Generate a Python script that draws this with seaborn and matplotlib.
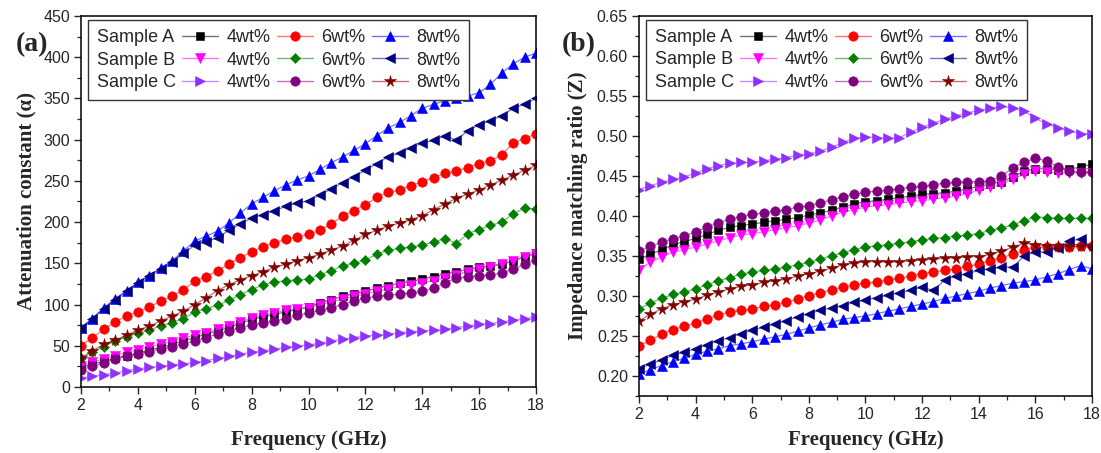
import numpy as np
import pandas as pd
import matplotlib
matplotlib.use("Agg")
import matplotlib.pyplot as plt
from matplotlib.lines import Line2D
from matplotlib.colors import to_rgba
from matplotlib.ticker import MultipleLocator, FormatStrFormatter
import seaborn as sns

# ---------------- data ----------------
freq = [2.0, 2.4, 2.8, 3.2, 3.6, 4.0, 4.4, 4.8, 5.2, 5.6, 6.0, 6.4, 6.8, 7.2, 7.6, 8.0,
        8.4, 8.8, 9.2, 9.6, 10.0, 10.4, 10.8, 11.2, 11.6, 12.0, 12.4, 12.8, 13.2, 13.6,
        14.0, 14.4, 14.8, 15.2, 15.6, 16.0, 16.4, 16.8, 17.2, 17.6, 18.0]

# (a) attenuation constant
att_A4 = [24, 28, 31, 35, 38, 41, 45, 48, 52, 56, 60, 64, 68, 72, 77, 82, 85, 88, 91, 94, 97,
          102, 106, 110, 113, 116, 120, 123, 126, 128, 131, 134, 137, 140, 143, 145, 147, 149, 153, 158, 162]
att_A6 = [50, 60, 70, 79, 86, 91, 97, 104, 110, 118, 128, 134, 141, 149, 157, 164, 170, 175, 179, 182, 185,
          190, 198, 207, 214, 221, 230, 236, 239, 244, 249, 254, 259, 262, 266, 271, 274, 282, 296, 301, 307]
att_A8 = [72, 83, 96, 107, 117, 127, 135, 144, 153, 165, 177, 183, 189, 199, 211, 222, 230, 238, 245, 251, 256,
          264, 272, 279, 287, 295, 305, 314, 321, 329, 338, 343, 347, 350, 353, 357, 367, 381, 392, 400, 405]
att_B4 = [26, 30, 34, 38, 42, 45, 48, 52, 55, 59, 63, 66, 70, 74, 79, 84, 87, 90, 93, 95, 96,
          100, 103, 107, 110, 113, 116, 119, 122, 124, 126, 129, 132, 136, 140, 143, 146, 149, 153, 158, 161]
att_B6 = [35, 42, 49, 56, 61, 65, 69, 74, 78, 83, 91, 95, 99, 105, 112, 118, 124, 127, 129, 130, 131,
          136, 141, 147, 150, 154, 161, 166, 168, 170, 172, 176, 180, 174, 186, 191, 196, 200, 210, 217, 216]
att_B8 = [71, 83, 95, 106, 116, 126, 135, 143, 152, 162, 172, 176, 181, 190, 198, 205, 209, 214, 219, 223, 226,
          233, 240, 248, 255, 263, 271, 279, 284, 290, 296, 299, 305, 299, 311, 318, 323, 329, 338, 343, 350]
att_C4 = [11, 13, 15, 17, 20, 22, 24, 25, 27, 28, 30, 32, 35, 37, 40, 42, 44, 46, 48, 50, 51,
          53, 56, 58, 60, 62, 63, 64, 66, 67, 68, 69, 70, 72, 74, 76, 77, 79, 81, 83, 85]
att_C6 = [21, 25, 29, 34, 37, 40, 43, 46, 49, 52, 56, 60, 64, 68, 72, 75, 78, 80, 83, 87, 90,
          93, 96, 100, 104, 108, 110, 111, 113, 114, 116, 120, 126, 132, 134, 135, 136, 138, 143, 149, 154]
att_C8 = [35, 44, 52, 57, 63, 69, 74, 80, 86, 92, 100, 108, 117, 124, 130, 135, 140, 145, 149, 153, 157,
          161, 166, 171, 178, 185, 190, 195, 199, 203, 208, 215, 222, 229, 234, 239, 245, 251, 257, 263, 269]

# (b) impedance matching ratio
z_A4 = [0.346, 0.352, 0.358, 0.364, 0.368, 0.372, 0.377, 0.382, 0.386, 0.388, 0.390, 0.392, 0.394, 0.396,
        0.398, 0.401, 0.404, 0.407, 0.411, 0.415, 0.418, 0.419, 0.421, 0.423, 0.425, 0.427, 0.428, 0.429,
        0.431, 0.434, 0.437, 0.440, 0.443, 0.449, 0.456, 0.459, 0.459, 0.458, 0.459, 0.461, 0.465]
z_A6 = [0.237, 0.245, 0.252, 0.258, 0.262, 0.266, 0.271, 0.276, 0.280, 0.282, 0.284, 0.287, 0.289, 0.292,
        0.296, 0.300, 0.304, 0.307, 0.311, 0.314, 0.316, 0.318, 0.320, 0.322, 0.325, 0.328, 0.330, 0.332,
        0.334, 0.337, 0.340, 0.344, 0.348, 0.352, 0.357, 0.361, 0.361, 0.361, 0.361, 0.362, 0.362]
z_A8 = [0.202, 0.208, 0.213, 0.218, 0.222, 0.227, 0.231, 0.234, 0.238, 0.240, 0.243, 0.246, 0.249, 0.252,
        0.256, 0.260, 0.264, 0.267, 0.271, 0.273, 0.275, 0.278, 0.281, 0.284, 0.287, 0.290, 0.293, 0.297,
        0.300, 0.303, 0.306, 0.310, 0.313, 0.316, 0.318, 0.320, 0.324, 0.328, 0.333, 0.338, 0.334]
z_B4 = [0.333, 0.342, 0.349, 0.355, 0.358, 0.361, 0.365, 0.369, 0.373, 0.376, 0.378, 0.380, 0.383, 0.385,
        0.388, 0.391, 0.395, 0.400, 0.405, 0.408, 0.411, 0.413, 0.414, 0.416, 0.418, 0.419, 0.421, 0.423,
        0.425, 0.428, 0.432, 0.436, 0.440, 0.446, 0.452, 0.456, 0.455, 0.454, 0.454, 0.454, 0.454]
z_B6 = [0.284, 0.291, 0.297, 0.302, 0.305, 0.309, 0.314, 0.319, 0.323, 0.327, 0.330, 0.332, 0.334, 0.336,
        0.339, 0.342, 0.346, 0.350, 0.354, 0.358, 0.361, 0.363, 0.364, 0.366, 0.368, 0.370, 0.372, 0.373,
        0.375, 0.376, 0.378, 0.382, 0.385, 0.389, 0.394, 0.399, 0.398, 0.397, 0.397, 0.397, 0.397]
z_B8 = [0.209, 0.215, 0.220, 0.226, 0.230, 0.234, 0.239, 0.244, 0.248, 0.253, 0.257, 0.261, 0.265, 0.269,
        0.274, 0.278, 0.282, 0.285, 0.288, 0.292, 0.295, 0.298, 0.301, 0.304, 0.307, 0.311, 0.307, 0.320,
        0.325, 0.328, 0.332, 0.334, 0.336, 0.336, 0.350, 0.355, 0.355, 0.360, 0.369, 0.371, 0.361]
z_C4 = [0.433, 0.438, 0.442, 0.446, 0.449, 0.454, 0.459, 0.463, 0.466, 0.467, 0.467, 0.469, 0.471, 0.473,
        0.476, 0.478, 0.481, 0.486, 0.492, 0.497, 0.499, 0.498, 0.497, 0.498, 0.505, 0.511, 0.516, 0.521,
        0.525, 0.529, 0.532, 0.535, 0.537, 0.535, 0.531, 0.522, 0.515, 0.510, 0.506, 0.503, 0.503]
z_C6 = [0.356, 0.362, 0.367, 0.371, 0.375, 0.380, 0.386, 0.391, 0.396, 0.399, 0.402, 0.404, 0.406, 0.408,
        0.411, 0.413, 0.416, 0.420, 0.424, 0.427, 0.430, 0.431, 0.432, 0.434, 0.436, 0.437, 0.439, 0.441,
        0.442, 0.443, 0.443, 0.444, 0.450, 0.460, 0.467, 0.472, 0.469, 0.461, 0.456, 0.455, 0.455]
z_C8 = [0.269, 0.277, 0.284, 0.289, 0.293, 0.296, 0.301, 0.305, 0.309, 0.312, 0.314, 0.317, 0.319, 0.321,
        0.325, 0.328, 0.331, 0.335, 0.339, 0.341, 0.343, 0.343, 0.342, 0.343, 0.344, 0.345, 0.346, 0.347,
        0.348, 0.349, 0.349, 0.352, 0.356, 0.361, 0.366, 0.364, 0.363, 0.362, 0.362, 0.362, 0.363]

samples = ["Sample A", "Sample B", "Sample C"]
loadings = ["4wt%", "6wt%", "8wt%"]
series_keys = ["A4", "A6", "A8", "B4", "B6", "B8", "C4", "C6", "C8"]
att_data = [att_A4, att_A6, att_A8, att_B4, att_B6, att_B8, att_C4, att_C6, att_C8]
z_data = [z_A4, z_A6, z_A8, z_B4, z_B6, z_B8, z_C4, z_C6, z_C8]

# ---------------- styles ----------------
colors = ["#000000", "#FF0000", "#0000FF", "#FF00FF", "#008000", "#000080",
          "#9030FF", "#800080", "#800000"]
markers = ["s", "o", "^", "v", "D", "<", ">", "o", "*"]
msizes = [6.0, 6.8, 6.8, 6.8, 5.6, 6.8, 6.8, 6.8, 8.5]

sns.set_style("ticks")
plt.rcParams["font.family"] = ["Liberation Sans", "DejaVu Sans"]
plt.rcParams["axes.linewidth"] = 1.1

fig = plt.figure(figsize=(11.01, 4.53), dpi=100)
axA = fig.add_axes([0.07357, 0.14570, 0.41326, 0.81898])
axB = fig.add_axes([0.58038, 0.12583, 0.41144, 0.83885])


def draw(ax, data):
    for vals, c, m, ms in zip(data, colors, markers, msizes):
        sns.lineplot(x=freq, y=vals, ax=ax, color=to_rgba(c, 0.55), linewidth=0.9,
                     marker=m, markersize=ms, markerfacecolor=c, markeredgecolor=c,
                     markeredgewidth=0.4, errorbar=None, sort=False)


draw(axA, att_data)
draw(axB, z_data)

serif = ["Liberation Serif", "DejaVu Serif"]

for ax in (axA, axB):
    ax.set_xlim(2, 18)
    ax.xaxis.set_major_locator(MultipleLocator(2))
    ax.xaxis.set_minor_locator(MultipleLocator(1))
    ax.tick_params(which="major", direction="out", length=5, width=1.0,
                   labelsize=11.5, top=False, right=False, pad=3.0)
    ax.tick_params(which="minor", direction="out", length=3, width=0.9, top=False, right=False)
    for s in ax.spines.values():
        s.set_color("black")
        s.set_linewidth(1.1)

axA.set_ylim(0, 450)
axA.yaxis.set_major_locator(MultipleLocator(50))
axA.yaxis.set_minor_locator(MultipleLocator(25))
axB.set_ylim(0.175, 0.65)
axB.set_yticks(np.arange(0.20, 0.651, 0.05))
axB.yaxis.set_minor_locator(MultipleLocator(0.025))
axB.yaxis.set_major_formatter(FormatStrFormatter("%.2f"))

axA.set_xlabel("Frequency (GHz)", fontfamily=serif, fontweight="bold", fontsize=15, labelpad=12)
axB.set_xlabel("Frequency (GHz)", fontfamily=serif, fontweight="bold", fontsize=15, labelpad=6)
axA.set_ylabel("Attenuation constant (\u03b1)", fontfamily=serif, fontweight="bold", fontsize=15, labelpad=5)
axB.set_ylabel("Impedance matching ratio (Z)", fontfamily=serif, fontweight="bold", fontsize=15, labelpad=6)

fig.text(0.029, 0.902, "(a)", fontfamily=serif, fontweight="bold", fontsize=20, ha="center", va="center")
fig.text(0.526, 0.902, "(b)", fontfamily=serif, fontweight="bold", fontsize=20, ha="center", va="center")


def make_legend(ax, anchor):
    handles, labels = [], []
    # column 1: sample names, then columns of loadings (column-major order)
    for s in samples:
        handles.append(Line2D([], [], linestyle="none", marker=None))
        labels.append(s)
    for j in range(3):
        for i in range(3):
            k = i * 3 + j
            c = colors[k]
            handles.append(Line2D([], [], color=to_rgba(c, 0.55), linewidth=1.0,
                                  marker=markers[k], markersize=msizes[k],
                                  markerfacecolor=c, markeredgecolor=c, markeredgewidth=0.4))
            labels.append(loadings[j])
    leg = ax.legend(handles, labels, ncol=4, loc="upper left", bbox_to_anchor=anchor,
                    borderaxespad=0, frameon=True, fancybox=False, framealpha=1,
                    edgecolor="#333333", fontsize=13, handlelength=2.0, handletextpad=0.45,
                    columnspacing=0.35, labelspacing=0.3, borderpad=0.5)
    leg.get_frame().set_linewidth(1.0)
    try:
        first_col = leg._legend_handle_box.get_children()[0]
        for row in first_col.get_children():
            ch = row.get_children()
            row._children = [ch[-1]]
    except Exception:
        pass
    return leg


make_legend(axA, (0.0154, 0.989))
make_legend(axB, (0.0155, 0.9895))

fig.savefig("out.png", dpi=100)
